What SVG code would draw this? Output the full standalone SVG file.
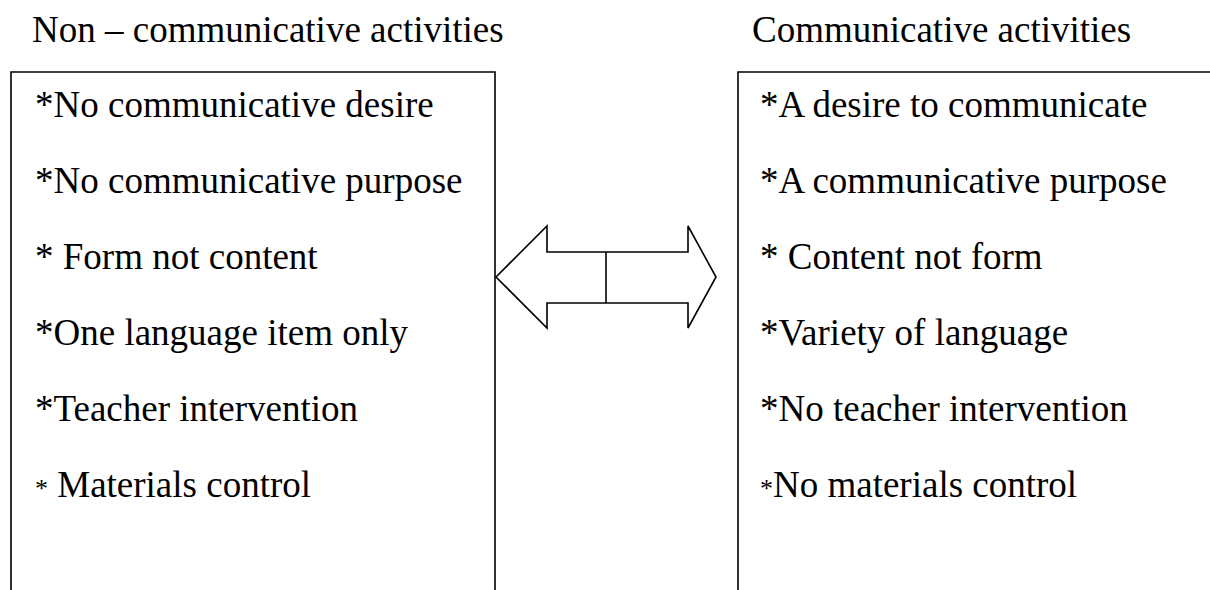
<svg xmlns="http://www.w3.org/2000/svg" width="1210" height="590" viewBox="0 0 1210 590">
  <style>
    .frame { fill: none; stroke: #000; stroke-width: 1.6; }
    .arrow { fill: #fff; stroke: #000; stroke-width: 1.6; stroke-linejoin: miter; }
    text { font-family: "Liberation Serif", "Times New Roman", serif; font-size: 37px; fill: #000; }
    .star-s { font-size: 26px; }
  </style>
  <rect width="1210" height="590" fill="#fff"/>

  <!-- column headings -->
  <text x="32" y="42">Non – communicative activities</text>
  <text x="752" y="42">Communicative activities</text>

  <!-- left column: non-communicative -->
  <g id="non-communicative">
    <path class="frame" d="M11,592 V72 H495 V592"/>
    <text x="35" y="117">*No communicative desire</text>
    <text x="35" y="193">*No communicative purpose</text>
    <text x="35" y="269">* Form not content</text>
    <text x="35" y="345">*One language item only</text>
    <text x="35" y="421">*Teacher intervention</text>
    <text x="35" y="497"><tspan class="star-s">*</tspan> Materials control</text>
  </g>

  <!-- right column: communicative -->
  <g id="communicative">
    <path class="frame" d="M738,592 V72 H1212"/>
    <text x="760" y="117">*A desire to communicate</text>
    <text x="760" y="193">*A communicative purpose</text>
    <text x="760" y="269">* Content not form</text>
    <text x="760" y="345">*Variety of language</text>
    <text x="760" y="421">*No teacher intervention</text>
    <text x="760" y="497"><tspan class="star-s">*</tspan>No materials control</text>
  </g>

  <!-- two-way block arrow between the columns -->
  <g id="connectors">
    <polygon class="arrow" points="496,277 547,226 547,252 688,252 688,226 716,277 688,328 688,303 547,303 547,328"/>
    <line class="frame" x1="606" y1="252" x2="606" y2="303"/>
  </g>
</svg>
